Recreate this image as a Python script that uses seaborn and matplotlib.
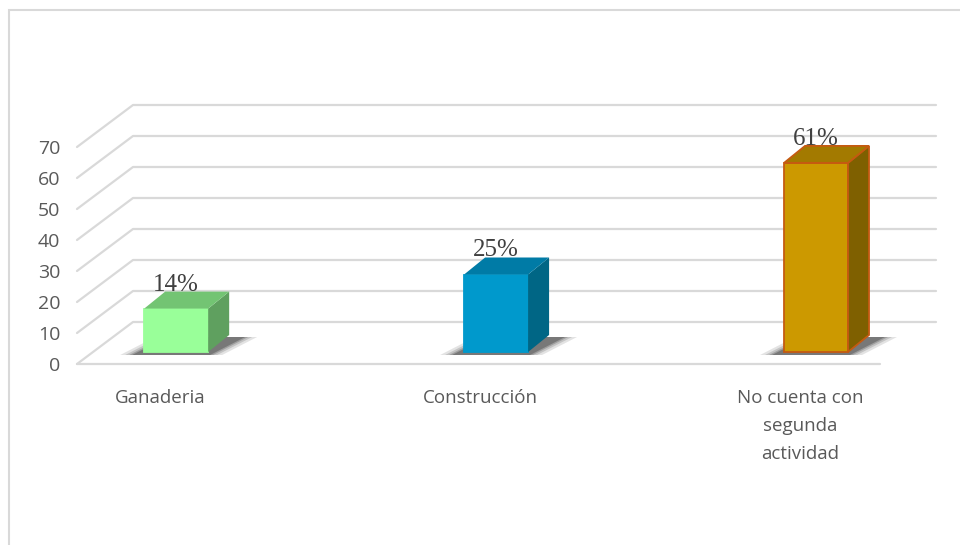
import matplotlib
matplotlib.use('Agg')
import matplotlib.pyplot as plt
import seaborn as sns
from matplotlib.patches import Polygon, Rectangle
from matplotlib.lines import Line2D
from matplotlib.transforms import IdentityTransform, ScaledTranslation

# data
categories = ['Ganaderia', 'Construcción', 'No cuenta con\nsegunda\nactividad']
values = [14, 25, 61]
labels = ['14%', '25%', '61%']
yticks = [0, 10, 20, 30, 40, 50, 60, 70]

# colours for the fake 3d boxes
front_colors = ['#99FF99', '#0099CC', '#CC9900']
top_colors = ['#73C473', '#007BA6', '#A37A00']
side_colors = ['#5FA05F', '#006685', '#7F6000']
edge_colors = ['#99FF99', '#0099CC', '#C55A11']

sns.set_style('white')
plt.rcParams['font.family'] = ['Open Sans', 'DejaVu Sans']

W, H = 960, 545
fig = plt.figure(figsize=(W / 100, H / 100), dpi=100)
fig.patch.set_facecolor('white')
# front plane of the 3d box
ax = fig.add_axes([77 / W, (H - 364) / H, (880 - 77) / W, (364 - 147) / H])
ax.patch.set_alpha(0)

sns.barplot(x=categories, y=values, hue=categories, palette=front_colors,
            width=0.2, saturation=1, legend=False, ax=ax)
ax.set_xlim(-0.26, 2.25)
ax.set_ylim(0, 70)
ax.set_xlabel('')
ax.set_ylabel('')
sns.despine(ax=ax, left=True, bottom=True)

# depth offsets in pixels (x right, y up)
floor_depth = (56, 42)
bar_front = (16, 12)
bar_back = (37, 29)
half_w = 0.1


def px(x, y, off=(0, 0)):
    p = ax.transData.transform((x, y))
    return (p[0] + off[0], p[1] + off[1])


ident = IdentityTransform()

# gridlines: diagonal on the side wall, horizontal on the back wall
xl, xr = ax.get_xlim()
for v in yticks:
    a = px(xl, v)
    b = px(xl, v, floor_depth)
    c = px(xr, v, floor_depth)
    ax.add_line(Line2D([a[0], b[0], c[0]], [a[1], b[1], c[1]], transform=ident,
                       color='#D9D9D9', lw=1.6, zorder=0.5, clip_on=False))
a = px(xl, 0)
b = px(xr, 0)
ax.add_line(Line2D([a[0], b[0]], [a[1], b[1]], transform=ident,
                   color='#D9D9D9', lw=1.6, zorder=0.5, clip_on=False))

# shift the seaborn bars to the bar front plane
shift = ScaledTranslation(bar_front[0] / 100, bar_front[1] / 100, fig.dpi_scale_trans)
for p, ec in zip(ax.patches, edge_colors):
    p.set_transform(ax.transData + shift)
    p.set_edgecolor(ec)
    p.set_linewidth(1.3)
    p.set_zorder(3)
    p.set_clip_on(False)

for i, v in enumerate(values):
    x0, x1 = i - half_w, i + half_w
    # soft shadow on the floor
    for grow, alpha in [(14, 0.12), (9, 0.16), (5, 0.22), (2, 0.3)]:
        pts = [px(x0, 0, (bar_front[0] - 10 - grow, bar_front[1] - 3)),
               px(x1, 0, (bar_front[0] + grow, bar_front[1] - 3)),
               px(x1, 0, (bar_back[0] + 14 + grow, bar_back[1] - 2)),
               px(x0, 0, (bar_back[0] + 4 - grow, bar_back[1] - 2))]
        ax.add_patch(Polygon(pts, closed=True, transform=ident, facecolor='#202020',
                             edgecolor='none', alpha=alpha, zorder=1, clip_on=False))
    top = [px(x0, v, bar_front), px(x1, v, bar_front),
           px(x1, v, bar_back), px(x0, v, bar_back)]
    side = [px(x1, 0, bar_front), px(x1, v, bar_front),
            px(x1, v, bar_back), px(x1, 0, bar_back)]
    ec = edge_colors[i] if i == 2 else 'none'
    ax.add_patch(Polygon(side, closed=True, transform=ident, facecolor=side_colors[i],
                         edgecolor=ec, lw=1.3, zorder=3, clip_on=False))
    ax.add_patch(Polygon(top, closed=True, transform=ident, facecolor=top_colors[i],
                         edgecolor=ec, lw=1.3, zorder=3, clip_on=False))

# value labels
lab_shift = ScaledTranslation(16 / 100, (bar_back[1] - 4) / 100, fig.dpi_scale_trans)
for i, (v, t) in enumerate(zip(values, labels)):
    ax.text(i, v, t, transform=ax.transData + lab_shift, ha='center', va='bottom',
            fontsize=18, family='Liberation Serif', color='#404040', zorder=5)

ax.set_yticks(yticks)
ax.tick_params(axis='y', length=0, pad=12, labelsize=14, labelcolor='#595959')
ax.tick_params(axis='x', length=0, pad=18, labelsize=13.5, labelcolor='#595959')
for t in ax.get_xticklabels():
    t.set_linespacing(1.7)

# chart area border
fig.patches.append(Rectangle((9 / W, -0.1), 1.2, 1.1 - 10 / H, transform=fig.transFigure,
                             fill=False, edgecolor='#D9D9D9', lw=1.5))

fig.savefig('out.png', dpi=100, facecolor='white')
